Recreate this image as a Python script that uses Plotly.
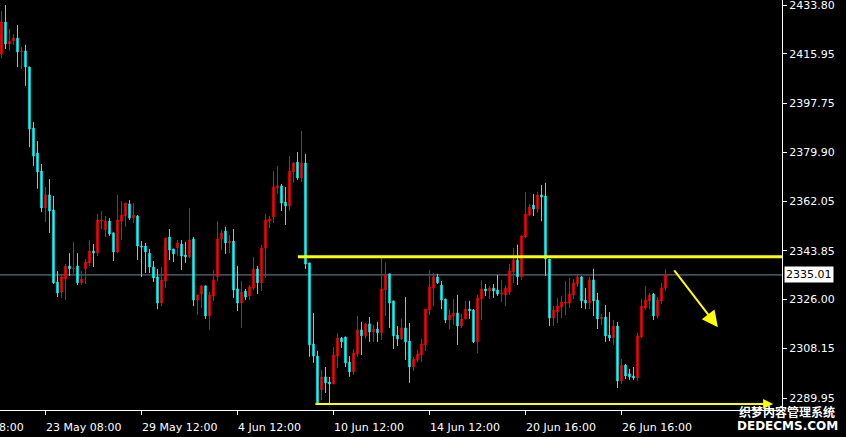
import plotly.graph_objects as go

# ---------------- data (H4 candles) ----------------
open_ = [2415.9, 2427.6, 2419.5, 2420.6, 2421.7, 2416.6, 2417.0, 2411.1, 2388.8, 2379.6,
         2373.0, 2359.5, 2364.3, 2358.8, 2332.4, 2328.8, 2333.5, 2338.3, 2337.2, 2338.3,
         2332.1, 2337.2, 2339.4, 2343.8, 2343.0, 2354.7, 2351.5, 2354.7, 2350.4, 2343.4,
         2354.7, 2356.6, 2361.0, 2355.8, 2356.6, 2345.6, 2345.6, 2343.0, 2337.9, 2334.3,
         2324.7, 2332.8, 2348.9, 2344.5, 2344.9, 2346.3, 2342.3, 2341.6, 2348.2, 2325.8,
         2328.0, 2331.0, 2320.0, 2327.3, 2334.3, 2348.2, 2351.1, 2346.7, 2347.4, 2329.9,
         2324.7, 2329.1, 2327.3, 2330.2, 2337.2, 2332.1, 2344.9, 2354.7, 2356.2, 2366.8,
         2367.6, 2361.7, 2360.2, 2372.7, 2376.3, 2370.5, 2376.0, 2339.4, 2309.7, 2305.3,
         2292.9, 2297.7, 2295.8, 2295.1, 2305.3, 2311.9, 2312.3, 2303.1, 2299.5, 2306.1,
         2314.9, 2312.7, 2317.1, 2314.1, 2315.2, 2313.8, 2329.5, 2335.4, 2325.5, 2313.0,
         2311.6, 2315.6, 2310.8, 2301.3, 2303.9, 2305.7, 2309.4, 2322.2, 2330.2, 2334.3,
         2331.3, 2326.2, 2318.5, 2320.0, 2321.1, 2316.3, 2318.9, 2322.5, 2322.2, 2310.5,
         2326.2, 2329.9, 2329.1, 2330.2, 2329.5, 2328.0, 2327.7, 2328.8, 2336.1, 2340.5,
         2334.3, 2348.9, 2356.9, 2360.6, 2359.1, 2364.3, 2363.9, 2340.8, 2319.2, 2321.4,
         2323.3, 2324.7, 2324.7, 2327.7, 2331.7, 2334.3, 2325.8, 2324.7, 2333.2, 2325.8,
         2318.9, 2319.6, 2313.0, 2311.9, 2316.3, 2296.2, 2302.0, 2298.8, 2298.0, 2297.3,
         2312.3, 2322.9, 2325.5, 2328.0, 2320.0, 2325.5, 2330.2]
high = [2431.6, 2433.8, 2425.0, 2423.2, 2426.5, 2418.4, 2419.2, 2411.1, 2391.0, 2384.0,
        2375.6, 2367.2, 2370.1, 2363.9, 2336.4, 2335.4, 2339.0, 2343.0, 2347.1, 2343.0,
        2336.4, 2340.8, 2347.8, 2346.3, 2357.3, 2358.4, 2356.6, 2355.8, 2350.4, 2364.3,
        2362.1, 2361.3, 2362.4, 2361.3, 2356.9, 2347.4, 2346.7, 2344.5, 2340.1, 2337.2,
        2337.9, 2348.5, 2351.8, 2344.5, 2347.8, 2347.8, 2347.1, 2359.5, 2348.9, 2327.7,
        2331.0, 2331.0, 2328.8, 2336.8, 2354.7, 2351.5, 2352.6, 2349.6, 2351.8, 2338.3,
        2332.8, 2329.9, 2331.3, 2341.6, 2338.3, 2346.0, 2357.3, 2356.6, 2373.0, 2374.9,
        2368.3, 2367.2, 2378.5, 2376.3, 2380.0, 2387.7, 2379.3, 2339.4, 2321.1, 2307.2,
        2300.2, 2301.3, 2297.7, 2308.6, 2313.8, 2312.3, 2312.3, 2305.3, 2307.9, 2320.0,
        2317.8, 2317.1, 2319.6, 2316.7, 2317.8, 2341.2, 2339.7, 2335.4, 2325.5, 2316.3,
        2318.9, 2326.9, 2317.4, 2305.0, 2307.5, 2311.6, 2322.5, 2336.8, 2335.7, 2335.4,
        2332.8, 2326.2, 2322.5, 2326.2, 2327.7, 2320.7, 2325.5, 2325.5, 2322.5, 2327.7,
        2333.2, 2331.7, 2331.0, 2331.7, 2335.0, 2333.2, 2331.3, 2339.0, 2344.9, 2346.0,
        2349.3, 2365.4, 2361.0, 2364.6, 2365.4, 2367.9, 2368.7, 2340.8, 2323.6, 2326.6,
        2327.3, 2332.8, 2333.9, 2333.5, 2335.0, 2334.6, 2330.2, 2334.3, 2337.2, 2328.4,
        2320.7, 2324.0, 2321.4, 2318.5, 2317.8, 2304.2, 2302.4, 2300.6, 2301.3, 2313.8,
        2326.2, 2331.0, 2328.4, 2328.4, 2326.9, 2332.1, 2337.2]
low = [2414.4, 2417.7, 2417.0, 2419.2, 2411.1, 2410.4, 2404.2, 2381.8, 2374.9, 2366.5,
       2358.0, 2354.4, 2350.4, 2331.7, 2326.9, 2326.6, 2325.8, 2334.6, 2335.4, 2331.3,
       2331.3, 2331.7, 2338.3, 2337.9, 2341.9, 2351.8, 2348.9, 2349.3, 2340.1, 2343.0,
       2347.8, 2352.6, 2355.1, 2354.0, 2340.5, 2334.3, 2335.7, 2335.7, 2332.4, 2322.5,
       2323.6, 2330.2, 2340.5, 2339.7, 2341.9, 2336.8, 2339.4, 2341.2, 2323.6, 2320.3,
       2322.9, 2318.9, 2314.9, 2325.5, 2332.8, 2344.1, 2342.7, 2343.0, 2326.6, 2321.8,
       2315.6, 2325.8, 2325.8, 2329.5, 2328.0, 2329.1, 2333.9, 2352.2, 2354.0, 2364.6,
       2358.4, 2353.3, 2358.4, 2368.7, 2369.8, 2369.0, 2337.2, 2305.0, 2302.8, 2287.4,
       2289.2, 2291.8, 2287.4, 2295.1, 2300.9, 2308.3, 2301.3, 2297.7, 2298.4, 2305.0,
       2305.7, 2311.6, 2310.5, 2310.5, 2310.5, 2311.2, 2320.0, 2315.6, 2307.9, 2309.0,
       2311.2, 2303.9, 2295.5, 2299.8, 2303.1, 2303.1, 2307.2, 2320.3, 2323.6, 2331.7,
       2322.5, 2317.4, 2315.2, 2316.7, 2309.4, 2315.6, 2318.9, 2318.9, 2310.1, 2306.4,
       2318.5, 2327.3, 2326.2, 2326.6, 2327.3, 2325.1, 2323.6, 2327.7, 2332.1, 2331.3,
       2333.2, 2348.5, 2356.6, 2356.6, 2357.7, 2354.7, 2334.6, 2316.3, 2316.3, 2317.4,
       2319.2, 2320.3, 2322.9, 2326.2, 2330.6, 2322.9, 2322.5, 2322.5, 2320.0, 2315.2,
       2316.7, 2310.5, 2310.8, 2309.4, 2293.6, 2295.1, 2296.9, 2296.6, 2296.6, 2296.2,
       2311.9, 2322.2, 2322.5, 2318.5, 2319.2, 2324.4, 2329.1]
close = [2427.6, 2419.5, 2420.6, 2421.7, 2416.6, 2417.0, 2411.1, 2388.4, 2378.5, 2372.7,
         2359.5, 2364.3, 2358.4, 2332.1, 2328.4, 2334.3, 2338.3, 2337.2, 2337.5, 2332.1,
         2333.5, 2339.7, 2343.8, 2343.0, 2355.1, 2355.1, 2354.7, 2350.0, 2343.4, 2355.1,
         2356.9, 2361.3, 2355.8, 2356.9, 2345.6, 2345.2, 2343.4, 2337.9, 2333.9, 2324.7,
         2333.2, 2348.5, 2344.1, 2342.7, 2346.7, 2341.9, 2341.6, 2347.8, 2325.8, 2327.7,
         2331.0, 2320.0, 2327.7, 2333.2, 2348.2, 2350.4, 2346.7, 2347.4, 2329.5, 2324.7,
         2328.8, 2326.9, 2330.6, 2337.2, 2332.1, 2344.9, 2355.1, 2355.5, 2367.2, 2367.6,
         2361.3, 2360.2, 2373.0, 2376.0, 2370.5, 2376.0, 2339.0, 2309.4, 2305.3, 2287.8,
         2297.7, 2295.5, 2295.1, 2305.7, 2311.9, 2310.5, 2302.8, 2299.5, 2306.4, 2314.9,
         2312.7, 2317.1, 2314.1, 2315.2, 2313.8, 2329.9, 2335.0, 2324.7, 2312.7, 2311.6,
         2315.6, 2310.5, 2301.3, 2304.2, 2306.1, 2309.7, 2322.5, 2330.6, 2334.3, 2332.1,
         2325.8, 2318.5, 2320.3, 2321.1, 2316.3, 2318.9, 2322.5, 2321.8, 2310.5, 2326.6,
         2329.9, 2329.1, 2330.2, 2329.1, 2328.0, 2328.4, 2330.2, 2336.4, 2340.5, 2334.3,
         2349.3, 2357.3, 2359.9, 2359.1, 2364.3, 2363.5, 2340.8, 2319.2, 2322.2, 2323.6,
         2325.1, 2325.1, 2328.0, 2332.1, 2334.3, 2325.5, 2324.7, 2333.2, 2325.5, 2318.9,
         2319.6, 2312.7, 2311.9, 2316.3, 2296.2, 2302.0, 2298.0, 2297.7, 2297.3, 2312.7,
         2323.6, 2325.8, 2327.7, 2320.0, 2325.8, 2330.2, 2335.01]
bars = list(range(len(close)))

# price-axis ticks and time-axis labels
ytick_vals = [2433.80, 2415.95, 2397.75, 2379.90, 2362.05, 2343.85, 2326.00, 2308.15, 2289.95]
ytick_text = ["2433.80", "2415.95", "2397.75", "2379.90", "2362.05", "2343.85", "2326.00", "2308.15", "2289.95"]
xtick_bars = [11, 35, 59, 83, 107, 131, 155]
xtick_text = ["23 May 08:00", "29 May 12:00", "4 Jun 12:00", "10 Jun 12:00",
              "14 Jun 12:00", "20 Jun 16:00", "26 Jun 16:00"]

bid_price = 2335.01
resistance = 2341.7
resistance_start_bar = 74.1
support = 2287.8
support_start_bar = 78.1
support_end_bar = 192.9
arrow_from = (167.9, 2337.2)
arrow_to = (179.1, 2315.9)

# ---------------- figure ----------------
RED = "#FF0000"
CYAN = "#00FFFF"
YELLOW = "#FFFF00"
FONT = "DejaVu Sans"

fig = go.Figure()
fig.add_trace(go.Candlestick(
    x=bars, open=open_, high=high, low=low, close=close,
    increasing=dict(line=dict(color=RED, width=1), fillcolor=RED),
    decreasing=dict(line=dict(color=CYAN, width=1), fillcolor=CYAN),
    whiskerwidth=0, hoverinfo="skip", showlegend=False,
))

shapes = [
    dict(type="line", xref="paper", x0=0, x1=1, yref="y", y0=bid_price, y1=bid_price,
         line=dict(color="#778899", width=1), layer="below"),
    dict(type="line", xref="x", x0=resistance_start_bar, x1=1000, yref="y",
         y0=resistance, y1=resistance, line=dict(color=YELLOW, width=3)),
]

annotations = []
for b, t in zip(xtick_bars, xtick_text):
    annotations.append(dict(x=b, y=0, xref="x", yref="paper", text=t, showarrow=False,
                            xanchor="left", yanchor="middle", yshift=-17, xshift=-2,
                            font=dict(family=FONT, size=11, color="white")))
annotations.append(dict(x=0, y=0, xref="paper", yref="paper", text="8:00", showarrow=False,
                        xanchor="left", yanchor="middle", yshift=-17, xshift=-3,
                        font=dict(family=FONT, size=11, color="white")))
# bid price label
annotations.append(dict(x=1, y=bid_price, xref="paper", yref="y", text="2335.01",
                        showarrow=False, xanchor="left", yanchor="middle", xshift=2,
                        bgcolor="white", borderpad=1,
                        font=dict(family=FONT, size=11, color="black")))
# support arrow
annotations.append(dict(x=support_end_bar, y=support, ax=support_start_bar, ay=support,
                        xref="x", yref="y", axref="x", ayref="y", text="",
                        showarrow=True, arrowhead=2, arrowsize=1, arrowwidth=2,
                        arrowcolor=YELLOW, standoff=0, startstandoff=0))
# down arrow
annotations.append(dict(x=arrow_to[0], y=arrow_to[1], ax=arrow_from[0], ay=arrow_from[1],
                        xref="x", yref="y", axref="x", ayref="y", text="",
                        showarrow=True, arrowhead=2, arrowsize=1.6, arrowwidth=2,
                        arrowcolor=YELLOW, standoff=0, startstandoff=0))
# watermark
annotations.append(dict(x=1.0064, y=0.0, xref="paper", yref="paper", text="<b>织梦内容管理系统</b>",
                        showarrow=False, xanchor="center", yanchor="middle", yshift=-1,
                        font=dict(family="Noto Sans CJK SC", size=12, color="white")))
annotations.append(dict(x=1.0064, y=0.0, xref="paper", yref="paper", text="<b>DEDECMS.COM</b>",
                        showarrow=False, xanchor="center", yanchor="middle", yshift=-16,
                        font=dict(family=FONT, size=12, color="white")))

fig.update_layout(
    width=846, height=437,
    margin=dict(l=0, r=64, t=0, b=27),
    paper_bgcolor="black", plot_bgcolor="black",
    boxgap=0.5,
    shapes=shapes, annotations=annotations,
    xaxis=dict(range=[-0.375, 195.125], rangeslider=dict(visible=False),
               showgrid=False, zeroline=False, showline=True, linecolor="white", linewidth=1,
               ticks="outside", ticklen=4, tickcolor="white", tickwidth=1,
               tickmode="array", tickvals=xtick_bars, showticklabels=False, fixedrange=True),
    yaxis=dict(range=[2285.57, 2435.63], side="right",
               showgrid=False, zeroline=False, showline=True, linecolor="white", linewidth=1,
               ticks="outside", ticklen=4, tickcolor="white", tickwidth=1,
               tickmode="array", tickvals=ytick_vals, ticktext=ytick_text,
               ticklabeloverflow="allow",
               tickfont=dict(family=FONT, size=11, color="white"), fixedrange=True),
    font=dict(family=FONT, color="white"),
)

fig.write_html(
    "out.html",
    config={"displayModeBar": False},
    post_script="document.body.style.margin='0';document.body.style.background='black';",
)
